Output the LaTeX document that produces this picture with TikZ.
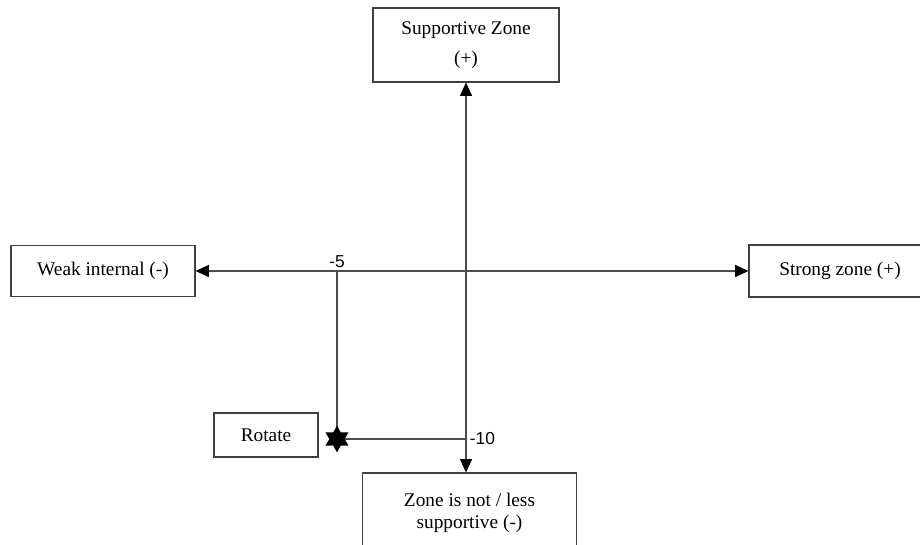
\documentclass[tikz,border=0pt]{standalone}
\usepackage{fontspec}
\setmainfont{Liberation Serif}
\newfontfamily\numfont{Liberation Sans}
\usetikzlibrary{arrows.meta}
\usetikzlibrary{shapes.geometric}
\colorlet{axisline}{black!70}

\begin{document}
\begin{tikzpicture}[x=0.75pt,y=-0.75pt,
        zonebox/.style={draw=black!75, line width=0.8pt, align=center, inner sep=0pt,
            font=\fontsize{14.5}{16}\selectfont},
        twotip/.style={{Triangle[length=10pt,width=9pt,color=black]}-{Triangle[length=10pt,width=9pt,color=black]}},
        numlabel/.style={font=\numfont\fontsize{13}{15}\selectfont, inner sep=1pt}]
        \useasboundingbox (0,0) rectangle (920,544);
        \clip (0,0) rectangle (920,544);
        % zone boxes
        \node[zonebox, minimum width=139.5pt, minimum height=55.5pt] (sup) at (466,45)
            {Supportive Zone\\[7pt](+)};
        \node[zonebox, minimum width=138pt, minimum height=38.25pt] (weak) at (103,271)
            {Weak internal (-)};
        \node[zonebox, minimum width=136.5pt, minimum height=39pt] (strong) at (840,271)
            {Strong zone (+)};
        \node[zonebox, minimum width=78pt, minimum height=33pt] (rot) at (266,435)
            {Rotate};
        \node[zonebox, minimum width=161pt, minimum height=60pt] (less) at (469.5,513)
            {Zone is not / less\\supportive (-)};
        % points on the axes
        \coordinate (m5) at (337,271);
        \coordinate (m10) at (467,439);
        \coordinate (mk) at (337,439);
        % axes
        \draw[twotip][axisline, line width=0.8pt] (sup.south) -- (sup.south |- less.north);
        \draw[twotip][axisline, line width=0.8pt] (weak.east) -- (strong.west);
        % rotation path
        \draw[axisline, line width=0.8pt] (m5) -- (mk);
        \draw[axisline, line width=0.8pt] (m10) -- (mk);
        \node[star, star points=6, star point ratio=1.75, fill=black, inner sep=0pt,
            minimum size=20pt] (mark) at (mk) {};
        \node[numlabel, anchor=south, yshift=1pt] (l5) at (m5) {-5};
        \node[numlabel, anchor=west, xshift=1pt] (l10) at (m10) {-10};
\end{tikzpicture}
\end{document}
